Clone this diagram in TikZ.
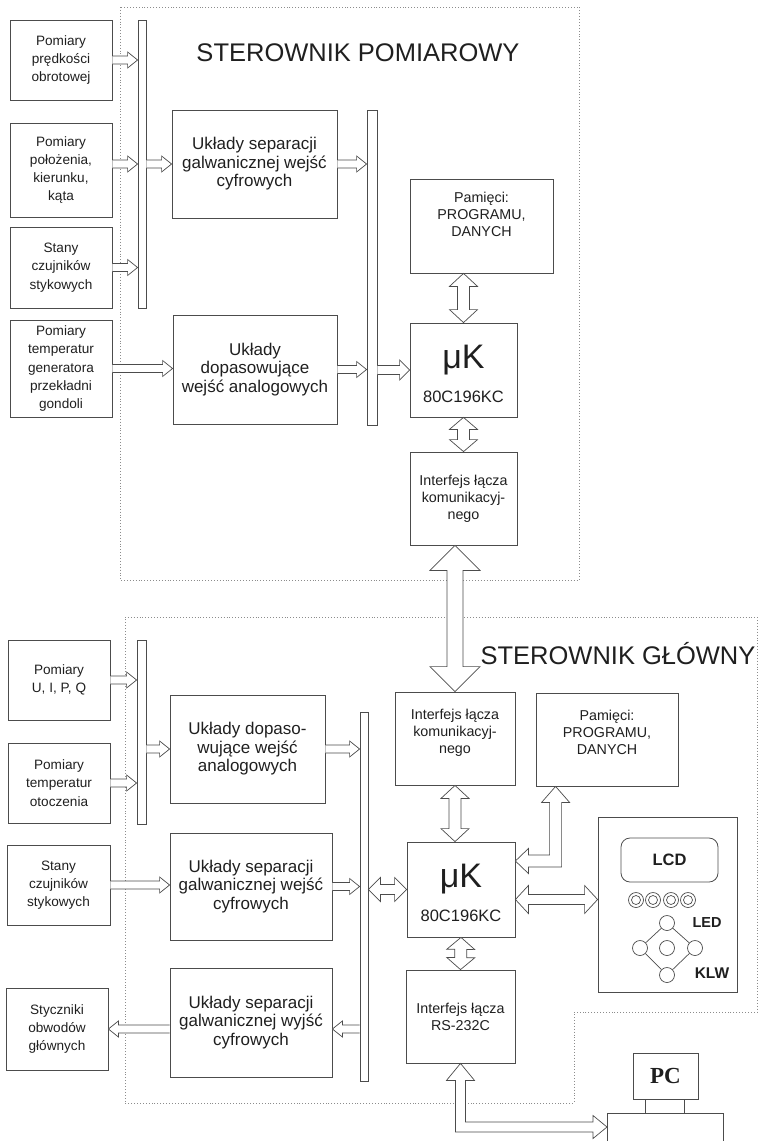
\documentclass[tikz,border=0pt]{standalone}
\usepackage{fontspec}
\setmainfont{Liberation Sans}
\newfontfamily\seriffont{Liberation Serif}
\usetikzlibrary{calc}
\definecolor{ln}{gray}{0.3}
\definecolor{tx}{gray}{0.12}
\definecolor{fr}{gray}{0.55}
\tikzset{
 box/.style={draw=ln, line width=0.8pt, align=center, text=tx, inner sep=0pt},
 inbox/.style={box, font=\fontsize{13.6}{18.3}\selectfont},
 unit/.style={box, font=\fontsize{17}{18.5}\selectfont},
 small/.style={box, font=\fontsize{14.3}{17}\selectfont},
 busbar/.style={draw=ln, line width=0.8pt, inner sep=0pt},
 blk/.style={draw=ln, line width=0.7pt, fill=white, line join=miter},
 frame/.style={draw=fr, dotted, line width=0.9pt},
 ttl/.style={text=tx, font=\fontsize{25.5}{26}\selectfont, inner sep=0pt},
 lbl/.style={text=tx, inner sep=0pt},
 ring/.style={draw=ln, circle, inner sep=0pt, line width=0.7pt},
}
% single hollow arrow: start, tip, half shaft, half head, head length
\newcommand\harr[5]{%
 \draw[blk] ($(#1)!#3!90:(#2)$) -- ($(#2)!#5!(#1)!#3!90:(#2)$) -- ($(#2)!#5!(#1)!#4!90:(#2)$)
  -- (#2) -- ($(#2)!#5!(#1)!#4!-90:(#2)$) -- ($(#2)!#5!(#1)!#3!-90:(#2)$) -- ($(#1)!#3!-90:(#2)$);}
% double hollow arrow
\newcommand\darr[5]{%
 \draw[blk] (#1) -- ($(#1)!#5!(#2)!#4!90:(#2)$) -- ($(#1)!#5!(#2)!#3!90:(#2)$)
  -- ($(#2)!#5!(#1)!#3!90:(#2)$) -- ($(#2)!#5!(#1)!#4!90:(#2)$) -- (#2)
  -- ($(#2)!#5!(#1)!#4!-90:(#2)$) -- ($(#2)!#5!(#1)!#3!-90:(#2)$)
  -- ($(#1)!#5!(#2)!#3!-90:(#2)$) -- ($(#1)!#5!(#2)!#4!-90:(#2)$) -- cycle;}
\begin{document}
\begin{tikzpicture}[x=1pt,y=-1pt]
\useasboundingbox (0,0) rectangle (760,1141);
% frames
\draw[frame] (120,7) rectangle (579,580);
\draw[frame] (125,617) -- (757,617) -- (757,1012) -- (574,1012) -- (574,1103) -- (125,1103) -- cycle;
% titles
\node[ttl] (t1) at (358,52.5) {STEROWNIK POMIAROWY};
\node[ttl] (t2) at (618,654) {STEROWNIK GŁÓWNY};
% ---------- top controller ----------
\node[inbox, minimum width=102pt, minimum height=80pt] (in1) at (61,60) {Pomiary\\prędkości\\obrotowej};
\node[inbox, minimum width=102pt, minimum height=94pt] (in2) at (61,170) {Pomiary\\położenia,\\kierunku,\\kąta};
\node[inbox, minimum width=102pt, minimum height=81pt] (in3) at (61,267.5) {Stany\\czujników\\stykowych};
\node[inbox, minimum width=102pt, minimum height=97pt] (in4) at (61,368.5) {Pomiary\\temperatur\\generatora\\przekładni\\gondoli};
\node[busbar, minimum width=8pt, minimum height=288pt] (bar1) at (142,164) {};
\node[unit, minimum width=165pt, minimum height=108pt] (sep1) at (254.5,164) {Układy separacji\\galwanicznej wejść\\cyfrowych};
\node[unit, minimum width=164pt, minimum height=109pt] (dop1) at (255,369.5) {Układy\\dopasowujące\\wejść analogowych};
\node[busbar, minimum width=10pt, minimum height=315pt] (bar2) at (372,267.5) {};
\node[small, minimum width=143pt, minimum height=94pt, text depth=23pt] (mem1) at (481.5,226) {Pamięci:\\PROGRAMU,\\DANYCH};
\node[box, minimum width=107pt, minimum height=94pt] (uk1) at (463.5,370) {};
\node[lbl, font=\fontsize{34}{34}\selectfont] (uk1a) at ($(uk1.north)+(0,37)$) {μK};
\node[lbl, font=\fontsize{16.5}{16.5}\selectfont] (uk1b) at ($(uk1.north)+(0,74)$) {80C196KC};
\node[small, minimum width=107pt, minimum height=93pt] (if1) at (463.5,498.5) {Interfejs łącza\\komunikacyj-\\nego};
% arrows top
\harr{in1.east}{in1.east -| bar1.west}{4pt}{8pt}{10pt}
\harr{in2.east |- sep1.west}{bar1.west |- sep1.west}{4pt}{8pt}{10pt}
\harr{in3.east}{in3.east -| bar1.west}{4pt}{8pt}{10pt}
\harr{bar1.east |- sep1.west}{sep1.west}{4pt}{8pt}{10pt}
\harr{sep1.east}{sep1.east -| bar2.west}{4pt}{8pt}{10pt}
\harr{in4.east}{in4.east -| dop1.west}{4pt}{8pt}{10pt}
\harr{dop1.east}{dop1.east -| bar2.west}{4pt}{8pt}{10pt}
\harr{bar2.east |- uk1.west}{uk1.west}{4.5pt}{10pt}{10pt}
\darr{mem1.south -| uk1.north}{uk1.north}{6pt}{14pt}{13pt}
\darr{uk1.south}{if1.north}{6pt}{14pt}{12pt}
% ---------- main controller ----------
\node[inbox, minimum width=102pt, minimum height=80pt] (in5) at (59,680) {Pomiary\\U, I, P, Q};
\node[inbox, minimum width=102pt, minimum height=80pt] (in6) at (59,783) {Pomiary\\temperatur\\otoczenia};
\node[inbox, minimum width=103pt, minimum height=80pt] (in7) at (58.5,885) {Stany\\czujników\\stykowych};
\node[inbox, minimum width=102pt, minimum height=82pt] (out1) at (57,1029) {Styczniki\\obwodów\\głównych};
\node[busbar, minimum width=9pt, minimum height=184pt] (bar3) at (141.5,732) {};
\node[unit, minimum width=155pt, minimum height=108pt] (dop2) at (247.5,749) {Układy dopaso-\\wujące wejść\\analogowych};
\node[unit, minimum width=162pt, minimum height=107pt] (sep2) at (251,886.5) {Układy separacji\\galwanicznej wejść\\cyfrowych};
\node[unit, minimum width=162pt, minimum height=109pt] (sep3) at (251,1022.5) {Układy separacji\\galwanicznej wyjść\\cyfrowych};
\node[busbar, minimum width=8pt, minimum height=369pt] (bar4) at (364,896.5) {};
\node[small, minimum width=120pt, minimum height=93pt, text depth=14pt] (if2) at (455,738.5) {Interfejs łącza\\komunikacyj-\\nego};
\node[small, minimum width=142pt, minimum height=93pt, text depth=15pt] (mem2) at (607,739.5) {Pamięci:\\PROGRAMU,\\DANYCH};
\node[box, minimum width=108pt, minimum height=95pt] (uk2) at (461,889.5) {};
\node[lbl, font=\fontsize{34}{34}\selectfont] (uk2a) at ($(uk2.north)+(0,37)$) {μK};
\node[lbl, font=\fontsize{16.5}{16.5}\selectfont] (uk2b) at ($(uk2.north)+(0,74)$) {80C196KC};
\node[small, minimum width=109pt, minimum height=93pt] (rs) at (460.5,1016.5) {Interfejs łącza\\RS-232C};
% LCD panel
\node[box, minimum width=139pt, minimum height=175pt] (panel) at (667.5,904.5) {};
\node[box, rounded corners=9pt, minimum width=97pt, minimum height=44pt, font=\bfseries\fontsize{16.5}{16.5}\selectfont] (lcd) at (669.5,860) {LCD};
\foreach \i/\x in {1/636,2/653,3/671,4/688}{
  \node[ring, minimum size=15pt] (led\i) at (\x,900) {};
  \draw[ln, line width=0.7pt] (led\i.center) circle (4.5);
}
\node[lbl, font=\bfseries\fontsize{14.5}{14.5}\selectfont] (ledt) at (707,922) {LED};
\node[ring, minimum size=15pt] (kt) at (667,923) {};
\node[ring, minimum size=15pt] (kl) at (640,948) {};
\node[ring, minimum size=15pt] (kc) at (667,948) {};
\node[ring, minimum size=15pt] (kr) at (695,948) {};
\node[ring, minimum size=15pt] (kb) at (667,975) {};
\draw[ln, line width=0.7pt] (kt) -- (kl) (kt) -- (kr) (kl) -- (kb) (kr) -- (kb);
\node[lbl, font=\bfseries\fontsize{15.5}{15.5}\selectfont] (klwt) at (712,973) {KLW};
% PC
\node[box, minimum width=65pt, minimum height=46pt, font=\seriffont\bfseries\fontsize{23}{23}\selectfont] (pc) at (665.5,1076) {PC};
\node[inner sep=0pt, minimum width=116pt, minimum height=40pt, anchor=north west] (pcb) at (607,1113) {};
\draw[ln, line width=0.8pt] (pcb.south west) -- (pcb.north west) -- (pcb.north east) -- (pcb.south east);
\draw[ln, line width=0.7pt] ($(pc.south west)+(13,0)$) -- ($(pc.south west |- pcb.north)+(13,0)$)
  ($(pc.south west)+(52,0)$) -- ($(pc.south west |- pcb.north)+(52,0)$);
% arrows bottom
\harr{in5.east}{in5.east -| bar3.west}{4pt}{8pt}{10pt}
\harr{in6.east}{in6.east -| bar3.west}{4pt}{8pt}{10pt}
\harr{bar3.east |- dop2.west}{dop2.west}{4pt}{8pt}{10pt}
\harr{in7.east}{in7.east -| sep2.west}{4pt}{8pt}{10pt}
\harr{dop2.east}{dop2.east -| bar4.west}{4pt}{8pt}{10pt}
\harr{sep2.east}{sep2.east -| bar4.west}{4pt}{8pt}{10pt}
\harr{bar4.west |- out1.east}{sep3.east |- out1.east}{4pt}{8pt}{10pt}
\harr{sep3.west |- out1.east}{out1.east}{4pt}{8pt}{10pt}
\darr{bar4.east |- uk2.west}{uk2.west}{5pt}{12pt}{12pt}
\darr{if2.south}{uk2.north -| if2.south}{6pt}{14pt}{13pt}
\darr{uk2.south}{rs.north}{6pt}{14pt}{12pt}
\coordinate (lk) at ($(uk2.east)+(0,10)$);
\darr{lk}{lk -| panel.west}{5pt}{14pt}{13pt}
% big link between controllers
\darr{if1.south -| if2.north}{if2.north}{8pt}{25pt}{25pt}
% elbow arrow memory <-> uK
\coordinate (m2tip) at ($(mem2.south west)+(20,0)$);
\coordinate (u2tip) at ($(uk2.east)+(0,-28.5)$);
\draw[blk] (m2tip) -- ++(14,16) -- ++(-8,0) -- ($(m2tip |- u2tip)+(6,6)$) -- ($(u2tip)+(13,6)$)
  -- ++(0,6.5) -- (u2tip) -- ++(13,-12.5) -- ++(0,6.5) -- ($(m2tip |- u2tip)+(-6,-6)$)
  -- ($(m2tip)+(-6,16)$) -- ++(-8,0) -- cycle;
% elbow arrow RS-232 <-> PC
\coordinate (rstip) at (rs.south);
\coordinate (pctip) at ($(pcb.north west)+(0,14)$);
\draw[blk] (rstip) -- ++(14,17) -- ++(-9,0) -- ($(rstip |- pctip)+(5,-5)$) -- ($(pctip)+(-14,-5)$)
  -- ++(0,-6.5) -- (pctip) -- ++(-14,11.5) -- ++(0,-6.5) -- ($(rstip |- pctip)+(-5,5)$)
  -- ($(rstip)+(-5,17)$) -- ++(-9,0) -- cycle;
\end{tikzpicture}
\end{document}
